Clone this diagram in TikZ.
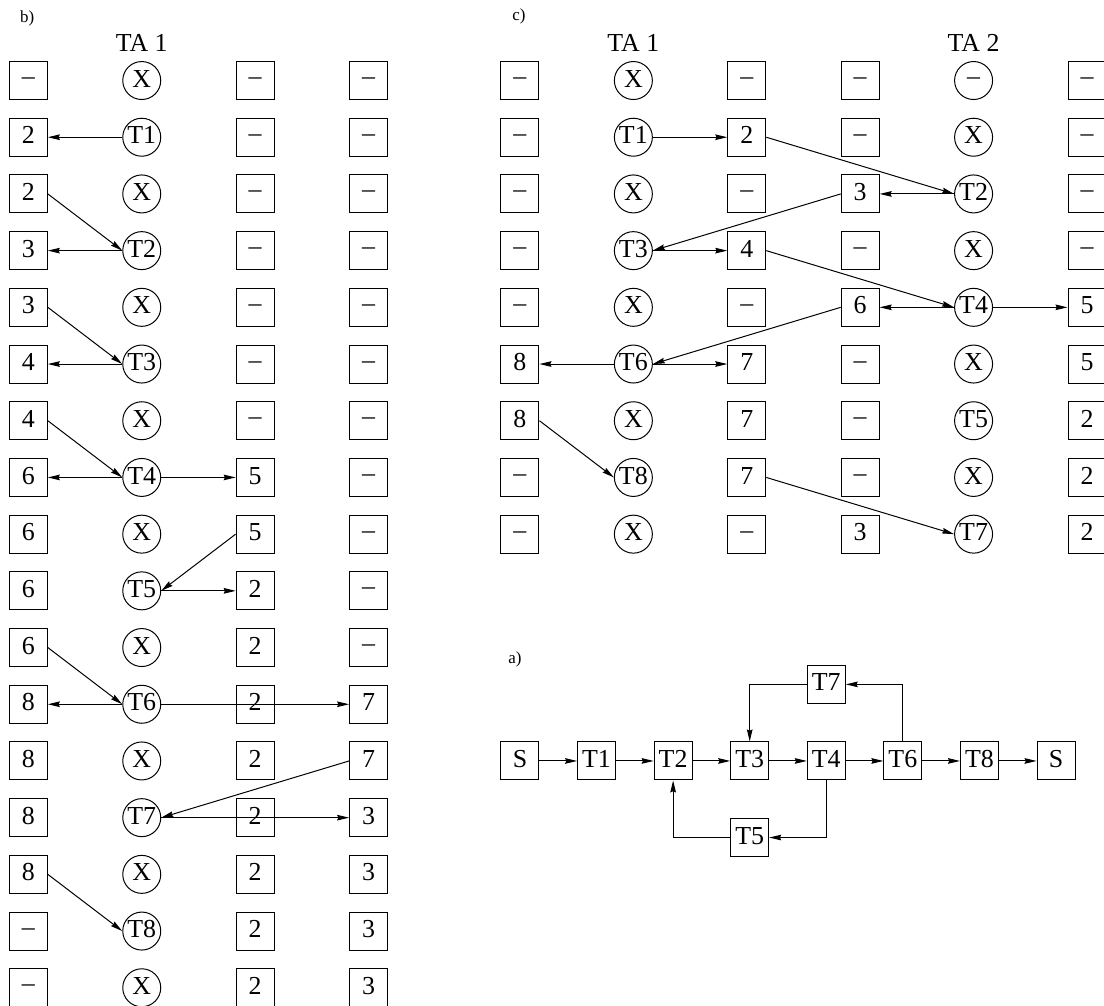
\documentclass[tikz,border=0pt]{standalone}
\usepackage{fontspec}
\setmainfont{Liberation Serif}
\usepackage{tikz}
\usetikzlibrary{arrows.meta,positioning}
\newcommand{\dsh}{\raisebox{0.1em}{\textendash}}
\tikzset{
  cellbox/.style={draw, minimum size=0.67cm, inner sep=0pt, text height=0.66em, text depth=0pt},
  cellring/.style={draw, circle, minimum size=0.67cm, inner sep=0pt, text height=0.66em, text depth=0pt},
  flow/.style={-{Stealth[length=6pt,width=2.8pt,inset=0.6pt]}},
  panel/.style={font=\fontsize{8.5}{10}\selectfont, anchor=base west},
  head/.style={anchor=base}
}

\begin{document}
\begin{tikzpicture}[font=\fontsize{13}{15}\selectfont, line width=0.5pt, node distance=0.663cm]
    \useasboundingbox (0,0) rectangle (19.47,-17.74);
    % b) one agent
    \node[panel] (lb) at (0.23,-0.39) {b)};
    \node[head] (tab1) at (2.5,-0.9) {TA 1};
    \foreach \r/\ua/\ub/\uc/\ud in {1/\dsh/X/\dsh/\dsh, 2/2/T1/\dsh/\dsh, 3/2/X/\dsh/\dsh,
        4/3/T2/\dsh/\dsh, 5/3/X/\dsh/\dsh, 6/4/T3/\dsh/\dsh, 7/4/X/\dsh/\dsh,
        8/6/T4/5/\dsh, 9/6/X/5/\dsh, 10/6/T5/2/\dsh, 11/6/X/2/\dsh, 12/8/T6/2/7,
        13/8/X/2/7, 14/8/T7/2/3, 15/8/X/2/3, 16/\dsh/T8/2/3, 17/\dsh/X/2/3}{
        \node[cellbox]  (b\r-1) at (0.5,-0.42-\r) {\ua};
        \node[cellring] (b\r-2) at (2.5,-0.42-\r) {\ub};
        \node[cellbox]  (b\r-3) at (4.5,-0.42-\r) {\uc};
        \node[cellbox]  (b\r-4) at (6.5,-0.42-\r) {\ud};
    }
    \draw[flow] (b2-2) -- (b2-1);
    \draw[flow] (b3-1.east) -- (b4-2.west);
    \draw[flow] (b4-2) -- (b4-1);
    \draw[flow] (b5-1.east) -- (b6-2.west);
    \draw[flow] (b6-2) -- (b6-1);
    \draw[flow] (b7-1.east) -- (b8-2.west);
    \draw[flow] (b8-2) -- (b8-1);
    \draw[flow] (b8-2) -- (b8-3);
    \draw[flow] (b9-3.west) -- (b10-2.east);
    \draw[flow] (b10-2) -- (b10-3);
    \draw[flow] (b11-1.east) -- (b12-2.west);
    \draw[flow] (b12-2) -- (b12-1);
    \draw[flow] (b12-2) -- (b12-4);
    \draw[flow] (b13-4.west) -- (b14-2.east);
    \draw[flow] (b14-2) -- (b14-4);
    \draw[flow] (b15-1.east) -- (b16-2.west);
    % c) two agents
    \node[panel] (lc) at (8.91,-0.37) {c)};
    \node[head] (tac1) at (11.17,-0.9) {TA 1};
    \node[head] (tac2) at (17.17,-0.9) {TA 2};
    \foreach \r/\ua/\ub/\uc/\ud/\ue/\uf in {1/\dsh/X/\dsh/\dsh/\dsh/\dsh,
        2/\dsh/T1/2/\dsh/X/\dsh, 3/\dsh/X/\dsh/3/T2/\dsh, 4/\dsh/T3/4/\dsh/X/\dsh,
        5/\dsh/X/\dsh/6/T4/5, 6/8/T6/7/\dsh/X/5, 7/8/X/7/\dsh/T5/2,
        8/\dsh/T8/7/\dsh/X/2, 9/\dsh/X/\dsh/3/T7/2}{
        \node[cellbox]  (c\r-1) at (9.17,-0.42-\r) {\ua};
        \node[cellring] (c\r-2) at (11.17,-0.42-\r) {\ub};
        \node[cellbox]  (c\r-3) at (13.17,-0.42-\r) {\uc};
        \node[cellbox]  (c\r-4) at (15.17,-0.42-\r) {\ud};
        \node[cellring] (c\r-5) at (17.17,-0.42-\r) {\ue};
        \node[cellbox]  (c\r-6) at (19.17,-0.42-\r) {\uf};
    }
    \draw[flow] (c2-2) -- (c2-3);
    \draw[flow] (c2-3.east) -- (c3-5.west);
    \draw[flow] (c3-5) -- (c3-4);
    \draw[flow] (c3-4.west) -- (c4-2.east);
    \draw[flow] (c4-2) -- (c4-3);
    \draw[flow] (c4-3.east) -- (c5-5.west);
    \draw[flow] (c5-5) -- (c5-4);
    \draw[flow] (c5-5) -- (c5-6);
    \draw[flow] (c5-4.west) -- (c6-2.east);
    \draw[flow] (c6-2) -- (c6-1);
    \draw[flow] (c6-2) -- (c6-3);
    \draw[flow] (c7-1.east) -- (c8-2.west);
    \draw[flow] (c8-3.east) -- (c9-5.west);
    % a) task graph
    \node[panel] (la) at (8.84,-11.71) {a)};
    \node[cellbox] (s1) at (9.17,-13.42) {S};
    \node[cellbox, right=of s1] (t1) {T1};
    \node[cellbox, right=of t1] (t2) {T2};
    \node[cellbox, right=of t2] (t3) {T3};
    \node[cellbox, right=of t3] (t4) {T4};
    \node[cellbox, right=of t4] (t6) {T6};
    \node[cellbox, right=of t6] (t8) {T8};
    \node[cellbox, right=of t8] (s2) {S};
    \node[cellbox, above=of t4] (t7) {T7};
    \node[cellbox, below=of t3] (t5) {T5};
    \foreach \u/\v in {s1/t1, t1/t2, t2/t3, t3/t4, t4/t6, t6/t8, t8/s2}
        \draw[flow] (\u) -- (\v);
    \draw[flow] (t6.north) |- (t7.east);
    \draw[flow] (t7.west) -| (t3.north);
    \draw[flow] (t4.south) |- (t5.east);
    \draw[flow] (t5.west) -| (t2.south);
\end{tikzpicture}
\end{document}
